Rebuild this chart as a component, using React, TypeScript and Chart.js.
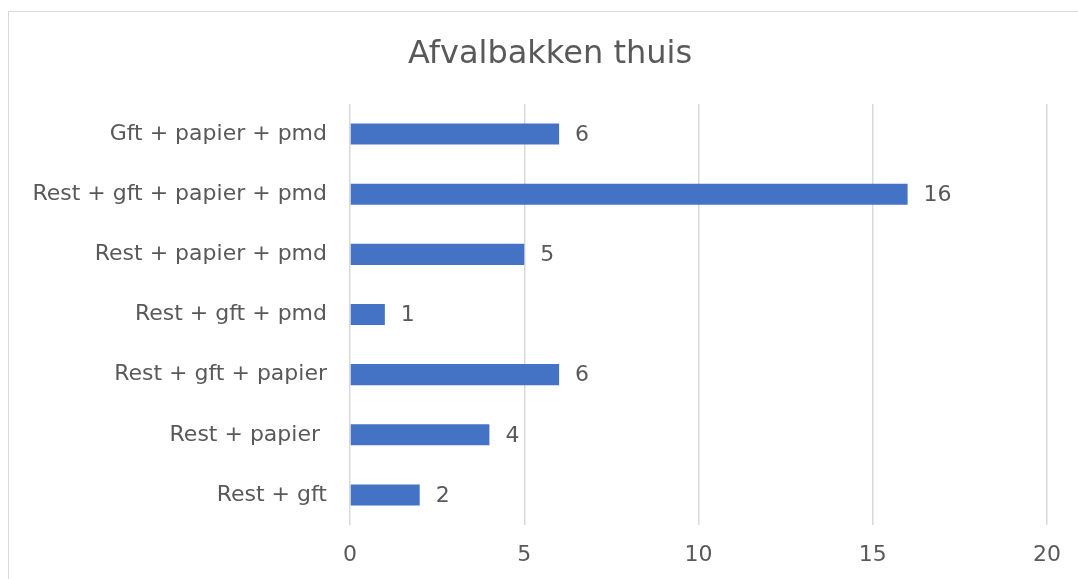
import React, { useEffect, useRef } from "react";
import { Chart, registerables } from "chart.js";

Chart.register(...registerables);

const TITLE = "Afvalbakken thuis";
const categories = [
  "Gft + papier + pmd",
  "Rest + gft + papier + pmd",
  "Rest + papier + pmd",
  "Rest + gft + pmd",
  "Rest + gft + papier",
  "Rest + papier ",
  "Rest + gft",
];
const counts = [6, 16, 5, 1, 6, 4, 2];
const xTicks = [0, 5, 10, 15, 20];

const FONT = "'DejaVu Sans', sans-serif";
const TEXT = "#595959";

export default function App() {
  const ref = useRef<HTMLCanvasElement | null>(null);

  useEffect(() => {
    document.documentElement.style.overflow = "hidden";
    document.body.style.overflow = "hidden";
    const canvas = ref.current!;
    const labelPlugin = {
      id: "labels",
      afterDatasetsDraw(chart: any) {
        const ctx = chart.ctx;
        const meta = chart.getDatasetMeta(0);
        ctx.save();
        ctx.font = `22px ${FONT}`;
        ctx.fillStyle = TEXT;
        ctx.textAlign = "left";
        ctx.textBaseline = "middle";
        meta.data.forEach((el: any, i: number) => {
          ctx.fillText(String(counts[i]), el.x + 16, el.y + 1);
        });
        ctx.restore();
      },
      afterDraw(chart: any) {
        const ctx = chart.ctx;
        ctx.save();
        ctx.font = `32px ${FONT}`;
        ctx.fillStyle = TEXT;
        ctx.textAlign = "center";
        ctx.textBaseline = "middle";
        ctx.fillText(TITLE, 541, 43);
        ctx.restore();
      },
    };
    const chart = new Chart(canvas, {
      type: "bar",
      data: {
        labels: categories,
        datasets: [
          {
            data: counts,
            backgroundColor: "#4472C4",
            barPercentage: 0.7,
            categoryPercentage: 0.5,
          },
        ],
      },
      options: {
        indexAxis: "y",
        animation: false,
        responsive: false,
        maintainAspectRatio: false,
        layout: { padding: { top: 92, right: 29, left: 0, bottom: 0 } },
        plugins: {
          legend: { display: false },
          title: { display: false },
          tooltip: { enabled: false },
        },
        scales: {
          x: {
            min: 0,
            max: 20,
            afterBuildTicks(scale: any) {
              scale.ticks = xTicks.map((v) => ({ value: v }));
            },
            afterFit(scale: any) {
              scale.height = 54;
            },
            grid: { color: "#d9d9d9", lineWidth: 1.5, drawTicks: false },
            border: { display: false },
            ticks: {
              padding: 17,
              color: TEXT,
              font: { family: FONT, size: 22 },
            },
          },
          y: {
            afterFit(scale: any) {
              scale.width = 341;
            },
            grid: { display: false, drawTicks: false },
            border: { display: false },
            ticks: {
              padding: 23,
              color: TEXT,
              font: { family: FONT, size: 22 },
            },
          },
        },
      },
      plugins: [labelPlugin],
    });
    return () => chart.destroy();
  }, []);

  return (
    <div
      style={{
        position: "absolute",
        left: 8,
        top: 11,
        width: 1100,
        height: 600,
        border: "1px solid #d9d9d9",
        background: "#fff",
      }}
    >
      <canvas ref={ref} width={1069} height={567} style={{ display: "block" }} />
    </div>
  );
}
